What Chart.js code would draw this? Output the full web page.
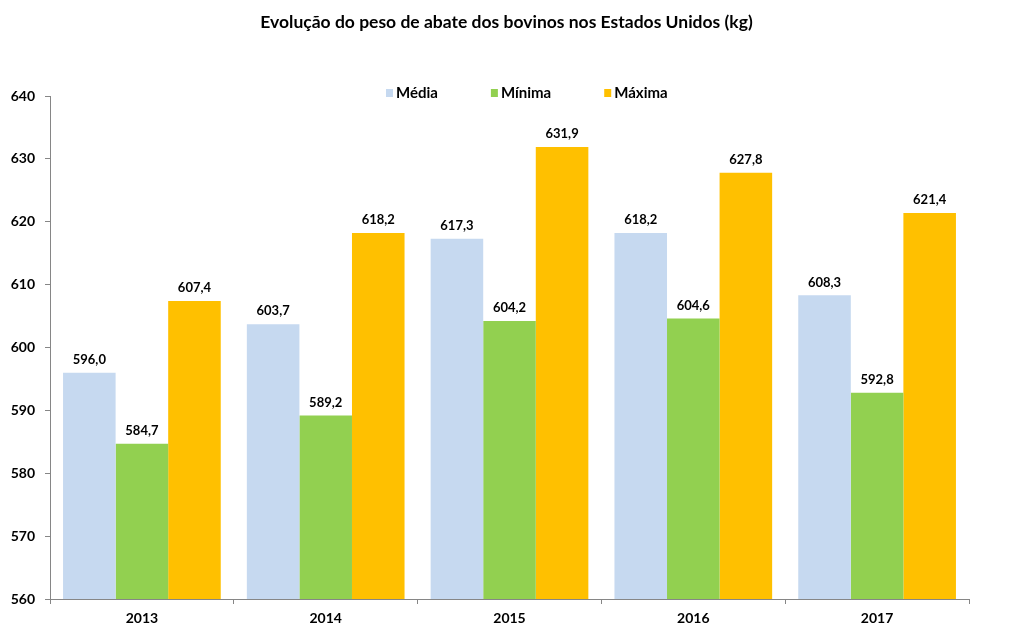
<!DOCTYPE html>
<html>
<head>
<meta charset="utf-8">
<script src="https://cdn.jsdelivr.net/npm/chart.js@4"></script>
<style>
  html, body { margin: 0; padding: 0; background: #ffffff; }
  #wrap { width: 1013px; height: 632px; position: relative; }
</style>
</head>
<body>
<div id="wrap"><canvas id="c"></canvas></div>
<script>
const categories = ['2013', '2014', '2015', '2016', '2017'];
const seriesNames = ['Média', 'Mínima', 'Máxima'];
const media  = [596.0, 603.7, 617.3, 618.2, 608.3];
const minima = [584.7, 589.2, 604.2, 604.6, 592.8];
const maxima = [607.4, 618.2, 631.9, 627.8, 621.4];
const seriesColors = ['#C6D9F0', '#92D050', '#FFC000'];
const yMin = 560, yMax = 640, yStep = 10;
const titleText = 'Evolução do peso de abate dos bovinos nos Estados Unidos (kg)';

const FONT = "Lato, 'Open Sans', 'DejaVu Sans', sans-serif";
const AXIS_COLOR = '#868686';

const valueLabels = {
  id: 'valueLabels',
  afterDatasetsDraw(chart) {
    const ctx = chart.ctx;
    ctx.save();
    ctx.font = 'bold 13px ' + FONT;
    ctx.fillStyle = '#000000';
    ctx.textAlign = 'center';
    ctx.textBaseline = 'middle';
    chart.data.datasets.forEach((ds, i) => {
      const meta = chart.getDatasetMeta(i);
      meta.data.forEach((el, j) => {
        const txt = ds.data[j].toFixed(1).replace('.', ',');
        ctx.fillText(txt, el.x, el.y - 13);
      });
    });
    ctx.restore();
  }
};

const pageTitle = {
  id: 'pageTitle',
  afterDraw(chart) {
    const ctx = chart.ctx;
    ctx.save();
    ctx.font = 'bold 17.5px ' + FONT;
    ctx.fillStyle = '#000000';
    ctx.textAlign = 'center';
    ctx.textBaseline = 'middle';
    ctx.fillText(titleText, chart.width / 2, 22);
    ctx.restore();
  }
};

const customLegend = {
  id: 'customLegend',
  afterDraw(chart) {
    const ctx = chart.ctx;
    ctx.save();
    ctx.font = 'bold 15px ' + FONT;
    ctx.textBaseline = 'middle';
    ctx.textAlign = 'left';
    const cy = 93;
    let x = 386;
    chart.data.datasets.forEach((ds) => {
      ctx.fillStyle = ds.backgroundColor;
      ctx.fillRect(x, cy - 4, 7, 8);
      ctx.fillStyle = '#000000';
      ctx.fillText(ds.label, x + 10, cy);
      x += 10 + ctx.measureText(ds.label).width + 53;
    });
    ctx.restore();
  }
};

new Chart(document.getElementById('c'), {
  type: 'bar',
  data: {
    labels: categories,
    datasets: [
      { label: seriesNames[0], data: media,  backgroundColor: seriesColors[0] },
      { label: seriesNames[1], data: minima, backgroundColor: seriesColors[1] },
      { label: seriesNames[2], data: maxima, backgroundColor: seriesColors[2] }
    ]
  },
  options: {
    responsive: true,
    maintainAspectRatio: false,
    animation: false,
    devicePixelRatio: 1,
    layout: { padding: { left: 0, right: 44, top: 96, bottom: 0 } },
    datasets: { bar: { categoryPercentage: 0.858, barPercentage: 1.0, borderWidth: 0 } },
    plugins: {
      legend: { display: false },
      tooltip: { enabled: false },
      title: { display: false }
    },
    scales: {
      x: {
        offset: true,
        grid: { offset: true, drawOnChartArea: false, drawTicks: true, tickLength: 5, color: AXIS_COLOR },
        border: { display: true, color: AXIS_COLOR, width: 1 },
        ticks: { color: '#000000', font: { family: FONT, size: 14, weight: 'bold' }, padding: 6 },
        afterFit(s) { s.height = 33; }
      },
      y: {
        min: yMin, max: yMax,
        grid: { drawOnChartArea: false, drawTicks: true, tickLength: 5, color: AXIS_COLOR },
        border: { display: true, color: AXIS_COLOR, width: 1 },
        ticks: { stepSize: yStep, color: '#000000', font: { family: FONT, size: 14, weight: 'bold' }, padding: 10 },
        afterFit(s) { s.width = 50; }
      }
    }
  },
  plugins: [valueLabels, pageTitle, customLegend]
});
</script>
</body>
</html>
